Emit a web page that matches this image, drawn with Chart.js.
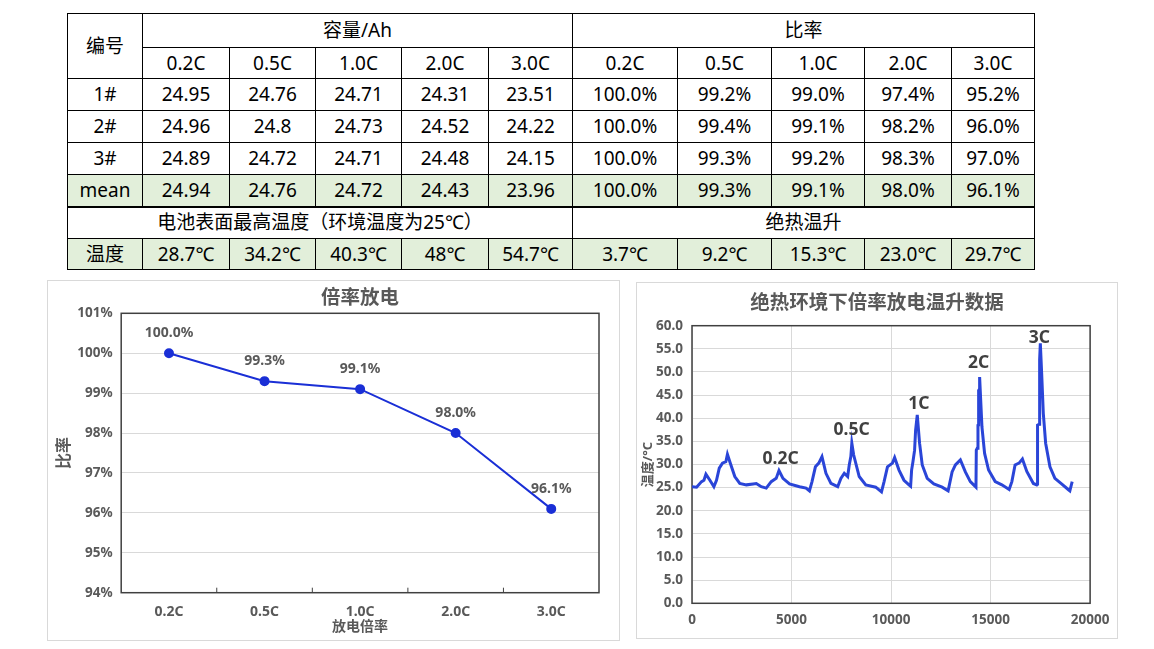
<!DOCTYPE html>
<html>
<head>
<meta charset="utf-8">
<script src="https://cdn.jsdelivr.net/npm/chart.js@4.4.0/dist/chart.umd.min.js"></script>
<style>
body { margin: 0; background: #fff; width: 1154px; height: 649px; position: relative; overflow: hidden;
       font-family: "Noto Sans", "Noto Sans CJK SC", sans-serif; }
#tbl { position: absolute; left: 67px; top: 13px; border-collapse: collapse; table-layout: fixed;
       font-size: 19px; color: #000; }
#tbl td { border: 1px solid #000; text-align: center; padding: 0; white-space: nowrap; line-height: 1; }
#tbl tr.green td { background: #e2efda; }
#tbl tr.thick td { border-bottom: 2px solid #000; }
.card { position: absolute; border: 1px solid #d9d9d9; box-sizing: border-box; }
canvas { position: absolute; }
</style>
</head>
<body>
<table id="tbl"></table>
<div class="card" style="left:47px;top:280px;width:573px;height:361px;"></div>
<div class="card" style="left:636px;top:282px;width:482px;height:357px;"></div>
<canvas id="rateCanvas" width="572" height="360" style="left:47px;top:280px;"></canvas>
<canvas id="tempCanvas" width="482" height="357" style="left:636px;top:282px;"></canvas>
<script>
// table data
const rateLabels = ['0.2C', '0.5C', '1.0C', '2.0C', '3.0C'];
const cellNames = ['1#', '2#', '3#', 'mean'];
const capacity1 = [24.95, 24.76, 24.71, 24.31, 23.51];
const capacity2 = [24.96, 24.8, 24.73, 24.52, 24.22];
const capacity3 = [24.89, 24.72, 24.71, 24.48, 24.15];
const capacityMean = [24.94, 24.76, 24.72, 24.43, 23.96];
const ratio1 = [100.0, 99.2, 99.0, 97.4, 95.2];
const ratio2 = [100.0, 99.4, 99.1, 98.2, 96.0];
const ratio3 = [100.0, 99.3, 99.2, 98.3, 97.0];
const ratioMean = [100.0, 99.3, 99.1, 98.0, 96.1];
const maxTemp = ['28.7', '34.2', '40.3', '48', '54.7'];
const tempRise = ['3.7', '9.2', '15.3', '23.0', '29.7'];

// chart 1 axis
const ratioTicks = [94, 95, 96, 97, 98, 99, 100, 101];

// chart 2: adiabatic temperature rise trace (time, temperature)
const timeVals = [0, 230, 480, 600, 700, 900, 1100, 1230, 1370, 1530, 1700, 1780, 1900, 2150, 2400, 2730,
  3070, 3230, 3480, 3730, 3980, 4230, 4370, 4570, 4900, 5400, 5730, 5900, 6030, 6200, 6370, 6530, 6730,
  6980, 7320, 7480, 7650, 7820, 7900, 7980, 8030, 8120, 8400, 8730, 9230, 9520, 9650, 9820, 10070, 10180,
  10400, 10650, 10900,
  10983, 11033, 11100, 11183, 11233, 11317, 11433, 11567, 11817, 12150, 12567, 12867, 13067, 13233, 13483,
  13733, 13983, 14267, 14283, 14330, 14367, 14390, 14400, 14430, 14450, 14567, 14700, 14900, 15233, 15567,
  15933, 16070, 16230, 16430, 16600, 16820, 17150, 17317, 17350, 17360, 17440, 17450, 17480, 17500, 17567,
  17650, 17767, 17983, 18233, 18567, 18900, 18983, 19100];
const tempVals = [25.2, 25.1, 26.3, 26.6, 27.9, 26.6, 25.2, 26.6, 29.2, 30.3, 30.6, 32.2, 30.6, 27.4, 25.9, 25.6,
  25.8, 25.9, 25.2, 24.9, 26.3, 27.0, 28.7, 27.0, 25.8, 25.2, 24.9, 24.3, 26.3, 29.5, 30.3, 31.7, 28.1,
  25.9, 25.2, 27.0, 28.1, 27.4, 29.9, 31.7, 34.6, 32.1, 27.4, 25.6, 25.1, 24.1, 26.3, 29.5, 30.3, 31.5,
  28.8, 26.6, 25.6,
  25.3, 28.8, 30.6, 33.1, 37.4, 40.7, 34.6, 29.9, 27.0, 25.8, 25.1, 24.3, 28.4, 29.9, 31.0,
  28.4, 26.3, 25.1, 33.1, 33.5, 38.5, 38.6, 46.0, 46.2, 48.9, 38.1, 32.4, 28.8, 26.3, 25.6,
  24.6, 26.3, 29.9, 30.3, 31.2, 28.5, 25.9, 25.6, 25.8, 38.5, 38.7, 50.5, 52.7, 56.2, 49.7,
  41.0, 34.6, 29.5, 27.0, 25.8, 24.6, 24.3, 26.3];
const peakNames = ['0.2C', '0.5C', '1C', '2C', '3C'];
const peakLabelX = [4450, 8015, 11400, 14400, 17450];
const peakLabelY = [31.1, 37.4, 43.0, 52.0, 57.4];

function buildTable() {
    const tbl = document.getElementById('tbl');
    const widths = [75, 87, 86, 86, 87, 84, 105, 94, 93, 87, 83];
    let html = '<colgroup>' + widths.map(w => `<col style="width:${w}px">`).join('') + '</colgroup>';
    html += '<tr style="height:34px"><td rowspan="2">编号</td><td colspan="5">容量/Ah</td><td colspan="5">比率</td></tr>';
    html += '<tr style="height:31px">' + rateLabels.map(r => `<td>${r}</td>`).join('') +
            rateLabels.map(r => `<td>${r}</td>`).join('') + '</tr>';
    const caps = [capacity1, capacity2, capacity3, capacityMean];
    const ratios = [ratio1, ratio2, ratio3, ratioMean];
    cellNames.forEach((name, i) => {
        const cls = name === 'mean' ? ' class="green thick"' : '';
        html += `<tr style="height:32px"${cls}><td>${name}</td>` +
            caps[i].map(v => `<td>${v}</td>`).join('') +
            ratios[i].map(v => `<td>${v.toFixed(1)}%</td>`).join('') + '</tr>';
    });
    html += '<tr style="height:32px"><td colspan="6">电池表面最高温度（环境温度为25℃）</td><td colspan="5">绝热温升</td></tr>';
    html += '<tr style="height:31px" class="green"><td>温度</td>' +
        maxTemp.map(v => `<td>${v}℃</td>`).join('') +
        tempRise.map(v => `<td>${v}℃</td>`).join('') + '</tr>';
    tbl.innerHTML = html;
}
buildTable();

const FONT = '"Noto Sans", "Noto Sans CJK SC", sans-serif';

const plotFrame = {
    id: 'plotFrame',
    beforeDatasetsDraw(chart) {
        const a = chart.chartArea;
        const ctx = chart.ctx;
        ctx.save();
        ctx.strokeStyle = '#404040';
        ctx.lineWidth = 1.5;
        ctx.strokeRect(a.left, a.top, a.right - a.left, a.bottom - a.top);
        if (chart.canvas.id === 'rateCanvas') {
            // short category separators rising from the bottom axis
            const xs = chart.scales.x;
            ctx.lineWidth = 1;
            for (let i = 1; i < rateLabels.length; i++) {
                const px = (xs.getPixelForValue(i - 1) + xs.getPixelForValue(i)) / 2;
                ctx.beginPath();
                ctx.moveTo(px, a.bottom);
                ctx.lineTo(px, a.bottom - 5);
                ctx.stroke();
            }
        }
        ctx.restore();
    }
};

// chart heading, centred either over the plot area or over the whole canvas
const chartTitle = {
    id: 'chartTitle',
    afterDraw(chart, args, opts) {
        const ctx = chart.ctx;
        const a = chart.chartArea;
        const cx = opts.overArea ? (a.left + a.right) / 2 : chart.width / 2;
        ctx.save();
        ctx.fillStyle = '#595959';
        ctx.font = 'bold ' + opts.size + 'px ' + FONT;
        ctx.textAlign = 'center';
        ctx.textBaseline = 'middle';
        ctx.fillText(opts.text, cx, opts.y);
        ctx.restore();
    }
};

const pointLabels = {
    id: 'pointLabels',
    afterDatasetsDraw(chart) {
        const ctx = chart.ctx;
        const meta = chart.getDatasetMeta(0);
        ctx.save();
        ctx.fillStyle = '#595959';
        ctx.font = 'bold 14px ' + FONT;
        ctx.textAlign = 'center';
        ctx.textBaseline = 'middle';
        meta.data.forEach((pt, i) => {
            ctx.fillText(ratioMean[i].toFixed(1) + '%', pt.x, pt.y - 20);
        });
        ctx.restore();
    }
};

const peakLabels = {
    id: 'peakLabels',
    afterDatasetsDraw(chart) {
        const ctx = chart.ctx;
        const xs = chart.scales.x, ys = chart.scales.y;
        ctx.save();
        ctx.fillStyle = '#404040';
        ctx.font = 'bold 17.5px ' + FONT;
        ctx.textAlign = 'center';
        ctx.textBaseline = 'middle';
        peakNames.forEach((t, i) => {
            ctx.fillText(t, xs.getPixelForValue(peakLabelX[i]), ys.getPixelForValue(peakLabelY[i]));
        });
        ctx.restore();
    }
};

new Chart(document.getElementById('rateCanvas').getContext('2d'), {
    type: 'line',
    data: {
        labels: rateLabels,
        datasets: [{
            data: ratioMean,
            borderColor: '#1a2fd6',
            backgroundColor: '#1a2fd6',
            borderWidth: 2,
            pointRadius: 4,
            pointHoverRadius: 4,
            tension: 0
        }]
    },
    options: {
        responsive: false,
        animation: false,
        layout: { padding: { left: 0, right: 20, top: 33.3, bottom: 0 } },
        plugins: {
            legend: { display: false },
            tooltip: { enabled: false },
            title: { display: false },
            chartTitle: { text: '倍率放电', size: 19.5, y: 18, overArea: true }
        },
        scales: {
            x: {
                offset: true,
                grid: { display: false, drawTicks: false, offset: true },
                border: { display: false },
                ticks: { color: '#595959', font: { family: FONT, size: 14, weight: 'bold' }, padding: 10.6 },
                title: {
                    display: true,
                    text: '放电倍率',
                    color: '#595959',
                    font: { family: FONT, size: 14, weight: 'bold' },
                    padding: { top: 0, bottom: 4.9 }
                },
                afterFit(scale) { scale.height = 47.3; }
            },
            y: {
                min: ratioTicks[0],
                max: ratioTicks[ratioTicks.length - 1],
                grid: { color: '#d9d9d9', drawTicks: false },
                border: { display: false },
                ticks: {
                    stepSize: 1,
                    padding: 8.6,
                    color: '#595959',
                    font: { family: FONT, size: 13.5, weight: 'bold' },
                    callback: v => v + '%'
                },
                title: {
                    display: true,
                    text: '比率',
                    color: '#595959',
                    font: { family: FONT, size: 16, weight: 'bold' },
                    padding: { top: 7.6, bottom: 0 }
                },
                afterFit(scale) { scale.width = 74.2; }
            }
        }
    },
    plugins: [plotFrame, pointLabels, chartTitle]
});

new Chart(document.getElementById('tempCanvas').getContext('2d'), {
    type: 'line',
    data: {
        datasets: [{
            data: timeVals.map((t, i) => ({ x: t, y: tempVals[i] })),
            borderColor: '#2a45d8',
            borderWidth: 3,
            pointRadius: 0,
            tension: 0
        }]
    },
    options: {
        responsive: false,
        animation: false,
        layout: { padding: { left: 0, right: 26, top: 43.7, bottom: 0 } },
        plugins: {
            legend: { display: false },
            tooltip: { enabled: false },
            title: { display: false },
            chartTitle: { text: '绝热环境下倍率放电温升数据', size: 19.5, y: 21.3, overArea: false }
        },
        scales: {
            x: {
                type: 'linear',
                min: 0,
                max: 20000,
                grid: { color: '#d9d9d9', drawTicks: false },
                border: { display: false },
                ticks: {
                    stepSize: 5000,
                    padding: 8.6,
                    color: '#595959',
                    font: { family: FONT, size: 13.5, weight: 'bold' },
                    callback: v => String(v)
                },
                afterFit(scale) { scale.height = 35.7; }
            },
            y: {
                min: 0,
                max: 60,
                grid: { color: '#d9d9d9', drawTicks: false },
                border: { display: false },
                ticks: {
                    stepSize: 5,
                    padding: 9,
                    color: '#595959',
                    font: { family: FONT, size: 13.5, weight: 'bold' },
                    callback: v => v.toFixed(1)
                },
                title: {
                    display: true,
                    text: '温度/°C',
                    color: '#595959',
                    font: { family: FONT, size: 13, weight: 'bold' },
                    padding: { top: 4.5, bottom: 0 }
                },
                afterFit(scale) { scale.width = 56; }
            }
        }
    },
    plugins: [plotFrame, peakLabels, chartTitle]
});
</script>
</body>
</html>
